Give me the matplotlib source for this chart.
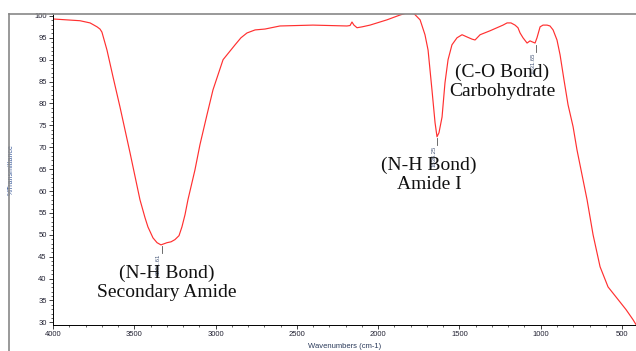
import matplotlib
matplotlib.use("Agg")
import matplotlib.pyplot as plt
from matplotlib.lines import Line2D
from matplotlib.ticker import MultipleLocator

# FTIR spectrum
wavenumber = [4000, 3834, 3772, 3748, 3729, 3711, 3699, 3668, 3631, 3588,
              3526, 3465, 3434, 3416, 3385, 3360, 3336, 3299, 3274, 3250,
              3225, 3207, 3188, 3170, 3127, 3096, 3053, 3016, 2954, 2880,
              2844, 2807, 2757, 2696, 2604, 2401, 2192, 2173, 2161, 2149,
              2130, 2099, 2050, 1946, 1866, 1822, 1779, 1742, 1712, 1693,
              1669, 1650, 1638, 1626, 1607, 1589, 1570, 1546, 1515, 1484,
              1454, 1423, 1404, 1373, 1312, 1269, 1232, 1207, 1183, 1158,
              1140, 1127, 1109, 1084, 1066, 1054, 1035, 1023, 1004, 986,
              961, 943, 924, 900, 881, 857, 832, 801, 777, 746,
              715, 678, 635, 586, 524, 475, 432, 414]
transmittance = [99.3, 98.9, 98.4, 97.9, 97.5, 97.0, 96.3, 92.2, 86.1, 79.2,
                 68.7, 58.0, 53.9, 51.8, 49.3, 48.2, 47.7, 48.2, 48.4, 48.9,
                 49.8, 51.8, 54.6, 58.0, 64.8, 70.6, 77.4, 83.1, 90.0, 93.4,
                 95.0, 96.1, 96.8, 97.0, 97.7, 97.9, 97.7, 97.8, 98.6, 97.9,
                 97.3, 97.5, 97.9, 99.1, 100.2, 100.7, 100.5, 99.1, 95.7, 92.2,
                 83.1, 75.6, 72.4, 73.3, 76.9, 84.7, 90.0, 93.4, 95.0, 95.7,
                 95.2, 94.7, 94.5, 95.7, 96.6, 97.3, 97.9, 98.4, 98.4, 97.9,
                 97.3, 96.1, 95.0, 93.8, 94.3, 94.1, 93.8, 95.0, 97.5, 97.9,
                 97.9, 97.7, 96.8, 94.5, 91.1, 85.4, 79.7, 74.7, 69.4, 63.7,
                 58.0, 50.0, 42.7, 38.1, 35.2, 32.9, 30.6, 29.5]

peak_wn = [3331.61, 1636.25, 1031.65]
peak_T = [47.6, 72.2, 93.6]
peak_labels = ["3331.61", "1636.25", "1031.65"]

band_labels = ["(N-H Bond)\nSecondary Amide", "(N-H Bond)\nAmide I", "(C-O Bond)\nCarbohydrate"]
band_x = [3300, 1688, 1238]
band_y = [39.0, 63.6, 85.0]

fig = plt.figure(figsize=(6.36, 3.51), dpi=100)
ax = fig.add_axes([53 / 636, 1 - 325 / 351, 1 - 53 / 636, (325 - 13.5) / 351])

ax.plot(wavenumber, transmittance, color='#ff3030', lw=0.85, solid_joinstyle='round')

ax.set_xlim(4000, 414)
ax.set_ylim(29.4, 100.55)
ax.xaxis.set_major_locator(MultipleLocator(500))
ax.xaxis.set_minor_locator(MultipleLocator(100))
ax.yaxis.set_major_locator(MultipleLocator(5))
ax.yaxis.set_minor_locator(MultipleLocator(1))
ax.tick_params(which='major', direction='out', length=3, width=0.6, pad=1.5,
               labelsize=5.5, labelcolor='#222233', color='#222222')
ax.tick_params(which='minor', direction='out', length=1.5, width=0.5, color='#222222')
for lab in ax.get_xticklabels() + ax.get_yticklabels():
    lab.set_family('Liberation Sans')

ax.spines['right'].set_visible(False)
ax.spines['top'].set_color('#888888')
ax.spines['top'].set_linewidth(1.2)
ax.spines['left'].set_linewidth(0.7)
ax.spines['bottom'].set_linewidth(0.7)

ax.set_ylabel('%Transmittance', fontsize=5, color='#3a5a9a', family='Liberation Sans')
ax.yaxis.set_label_coords(-0.065, 0.5)
ax.set_xlabel('Wavenumbers (cm-1)', fontsize=5.5, color='#2a3a5a', family='Liberation Sans')
ax.xaxis.set_label_coords(0.5, -0.058)

# peak markers
for w, t, s in zip(peak_wn, peak_T, peak_labels):
    ax.plot([w, w], [t - 0.2, t - 1.8], color='#555555', lw=0.6)
    ax.text(w + 18, t - 1.9, s, rotation=90, ha='center', va='top',
            fontsize=4.2, color='#445577', family='Liberation Sans')

for s, x, y in zip(band_labels, band_x, band_y):
    ax.text(x, y, s, ha='center', va='center', fontsize=14, family='Liberation Serif',
            color='#111111', linespacing=1.15)

# outer frame
fig.add_artist(Line2D([8.5 / 636, 53 / 636], [1 - 13.5 / 351] * 2, color='#888888', lw=1.2))
fig.add_artist(Line2D([8.5 / 636] * 2, [0, 1 - 13.5 / 351], color='#888888', lw=1.2))

fig.savefig('out.png', dpi=100)
